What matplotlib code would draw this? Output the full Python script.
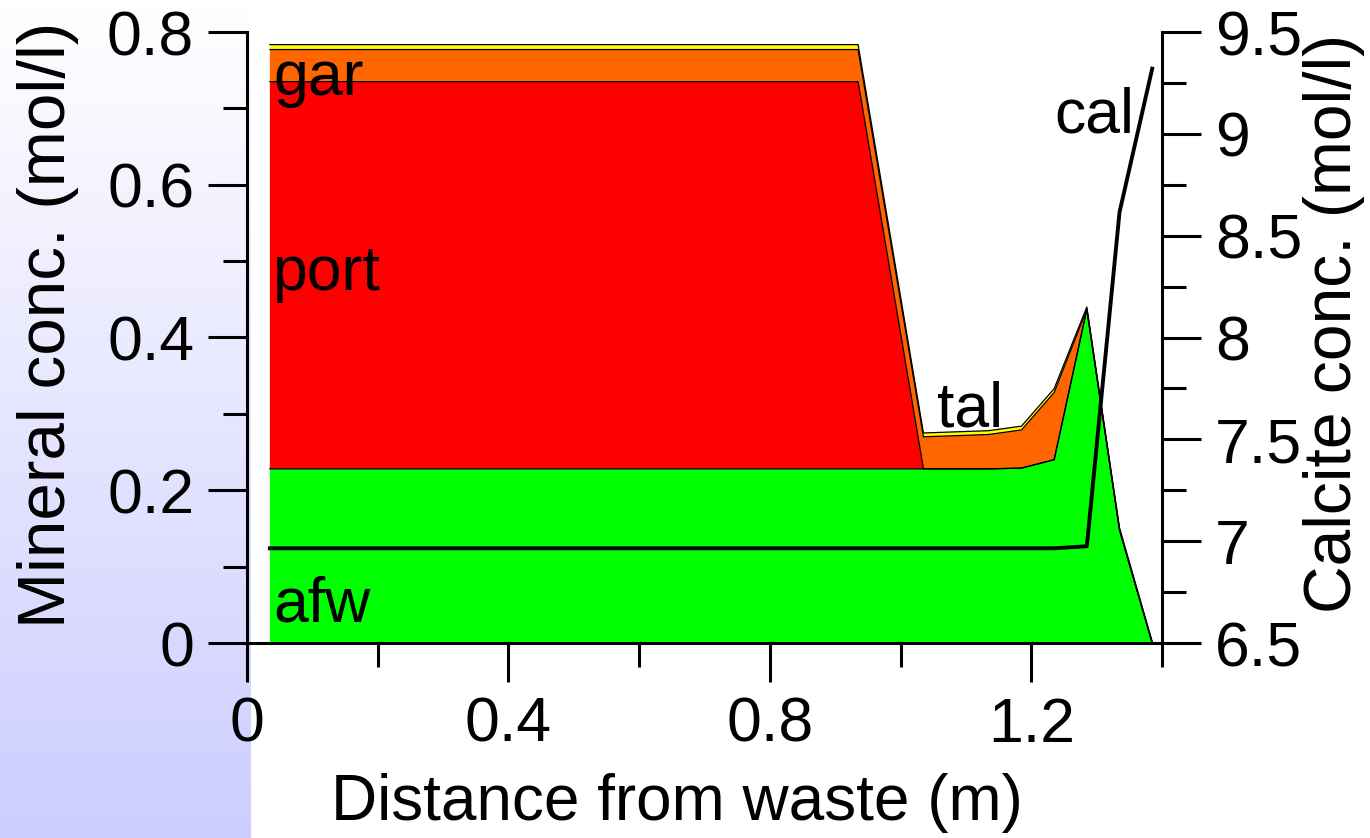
import numpy as np
import matplotlib
matplotlib.use("Agg")
import matplotlib.pyplot as plt
from matplotlib.ticker import MultipleLocator, FuncFormatter

plt.rcParams['font.family'] = ['Liberation Sans', 'DejaVu Sans']

# cell centres (m) and mineral amounts (mol/l) stacked from the bottom
dist = [0.035, 0.935, 0.985, 1.035, 1.135, 1.185, 1.235, 1.285, 1.335, 1.385]
afw = [0.228, 0.228, 0.228, 0.228, 0.228, 0.229, 0.240, 0.437, 0.148, 0.0]
port = [0.507, 0.507, 0.254, 0.0, 0.0, 0.0, 0.0, 0.0, 0.0, 0.0]
gar = [0.042, 0.042, 0.042, 0.042, 0.045, 0.050, 0.088, 0.0, 0.0, 0.0]
tal = [0.0065, 0.0065, 0.006, 0.005, 0.005, 0.005, 0.005, 0.003, 0.003, 0.002]
# calcite on the right axis
cal = [6.965, 6.965, 6.965, 6.965, 6.965, 6.965, 6.965, 6.975, 8.615, 9.32]

layers = [afw, port, gar, tal]
colors = ['#00ff00', '#ff0000', '#ff6600', '#ffff00']

W, H = 1370, 838
fig = plt.figure(figsize=(W / 100, H / 100), dpi=100)

# shaded strip down the left side
bg = fig.add_axes([0, 0, 251 / W, 1])
grad = np.linspace(0, 1, 256).reshape(-1, 1)
top = np.array([1.0, 1.0, 1.0])
bot = np.array([205, 205, 255]) / 255
img = top + (bot - top) * grad[:, :, None]
bg.imshow(img, aspect='auto', extent=[0, 1, 0, 1], origin='upper')
bg.axis('off')

ax = fig.add_axes([247 / W, 1 - 643 / H, 915 / W, 611 / H])
ax.patch.set_alpha(0)

# filled layers, then a thin black line along the top of each one
ax.stackplot(dist, *layers, colors=colors, linewidth=0)
for tops in np.cumsum(layers, axis=0):
    ax.plot(dist, tops, color='black', linewidth=0.9)

ax.set_xlim(0, 1.4)
ax.set_ylim(0, 0.8)

fmt = FuncFormatter(lambda v, p: '%g' % round(v, 3))
ax.xaxis.set_major_locator(MultipleLocator(0.4))
ax.xaxis.set_minor_locator(MultipleLocator(0.2))
ax.yaxis.set_major_locator(MultipleLocator(0.2))
ax.yaxis.set_minor_locator(MultipleLocator(0.1))
ax.xaxis.set_major_formatter(fmt)
ax.yaxis.set_major_formatter(fmt)

ax.tick_params(which='major', direction='out', length=28, width=2.2,
               labelsize=45, pad=10)
ax.tick_params(which='minor', direction='out', length=17, width=2.2)
for s in ['top', 'right']:
    ax.spines[s].set_visible(False)
for s in ['left', 'bottom']:
    ax.spines[s].set_linewidth(2.2)

ax.set_xlabel('Distance from waste (m)', fontsize=46)
ax.xaxis.set_label_coords(0.47, -0.213)
ax.set_ylabel('Mineral conc. (mol/l)', fontsize=48.5)
ax.yaxis.set_label_coords(-0.184, 0.52)

# calcite on a second axis
ax2 = ax.twinx()
ax2.plot(dist, cal, color='black', linewidth=2.8)
ax2.set_ylim(6.5, 9.5)
ax2.yaxis.set_major_locator(MultipleLocator(0.5))
ax2.yaxis.set_minor_locator(MultipleLocator(0.25))
ax2.yaxis.set_major_formatter(fmt)
ax2.tick_params(which='major', direction='out', length=28, width=2.2,
                labelsize=45, pad=10)
ax2.tick_params(which='minor', direction='out', length=17, width=2.2)
for s in ['top', 'left', 'bottom']:
    ax2.spines[s].set_visible(False)
ax2.spines['right'].set_linewidth(2.2)
ax2.set_ylabel('Calcite conc. (mol/l)', fontsize=47.5)
ax2.yaxis.set_label_coords(1.154, 0.523)

# mineral names
ax.text(0.04, 0.7175, 'gar', fontsize=45, va='baseline')
ax.text(0.04, 0.462, 'port', fontsize=45, va='baseline')
ax.text(0.04, 0.0275, 'afw', fontsize=45, va='baseline')
ax.text(1.056, 0.283, 'tal', fontsize=45, va='baseline')
ax.text(1.236, 0.669, 'cal', fontsize=45, va='baseline')

fig.savefig('out.png', dpi=100)
